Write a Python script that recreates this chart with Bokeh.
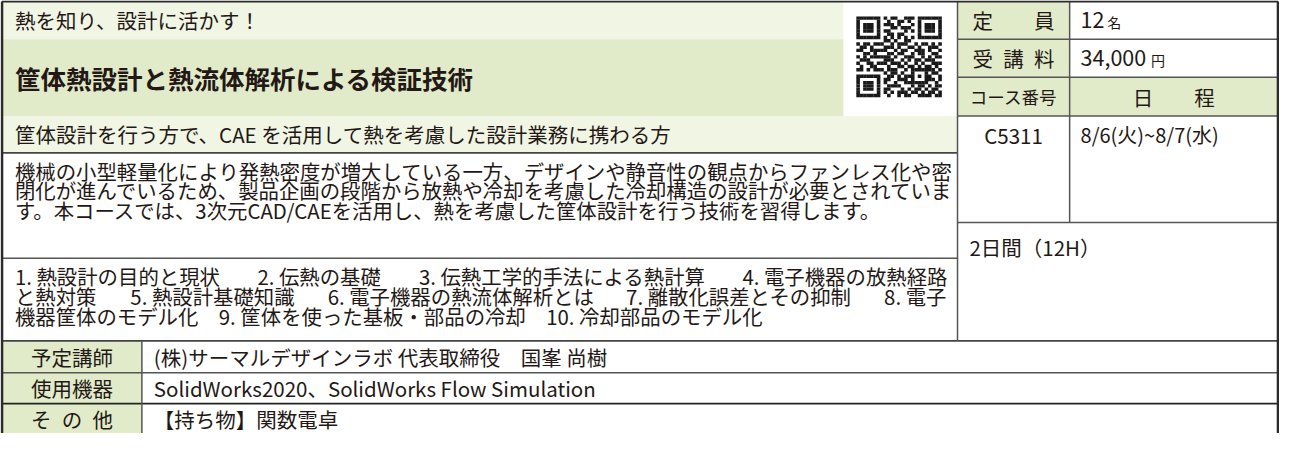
from bokeh.plotting import figure
from bokeh.models import Range1d
from bokeh.core.properties import value
from bokeh.embed import file_html
from bokeh.resources import INLINE

# ---------------- content ----------------
tagline = "熱を知り、設計に活かす！"
course_title = "筐体熱設計と熱流体解析による検証技術"
audience = "筐体設計を行う方で、CAE を活用して熱を考慮した設計業務に携わる方"
description_lines = [
    "機械の小型軽量化により発熱密度が増大している一方、デザインや静音性の観点からファンレス化や密",
    "閉化が進んでいるため、製品企画の段階から放熱や冷却を考慮した冷却構造の設計が必要とされていま",
    "す。本コースでは、3次元CAD/CAEを活用し、熱を考慮した筐体設計を行う技術を習得します。",
]
contents_justified = [
    ["1. 熱設計の目的と現状", "2. 伝熱の基礎", "3. 伝熱工学的手法による熱計算", "4. 電子機器の放熱経路"],
    ["と熱対策", "5. 熱設計基礎知識", "6. 電子機器の熱流体解析とは", "7. 離散化誤差とその抑制", "8. 電子"],
]
contents_last = "機器筐体のモデル化　9. 筐体を使った基板・部品の冷却　10. 冷却部品のモデル化"

info_labels = ["定　　員", "受\u2002講\u2002料", "コース番号"]
capacity = "12"
capacity_unit = "名"
fee = "34,000"
fee_unit = "円"
schedule_label = "日　　程"
course_code = "C5311"
schedule = "8/6(火)~8/7(水)"
duration = "2日間（12H）"

detail_labels = ["予定講師", "使用機器", "そ\u2002の\u2002他"]
detail_values = [
    "(株)サーマルデザインラボ 代表取締役　国峯 尚樹",
    "SolidWorks2020、SolidWorks Flow Simulation",
    "【持ち物】関数電卓",
]

qr_rows = [
    "1111111" + "0" + "101100111" + "0" + "1111111",
    "1000001" + "0" + "010011010" + "0" + "1000001",
    "1011101" + "0" + "111010001" + "0" + "1011101",
    "1011101" + "0" + "001101110" + "0" + "1011101",
    "1011101" + "0" + "110000101" + "0" + "1011101",
    "1000001" + "0" + "011011000" + "0" + "1000001",
    "1111111" + "0" + "101010101" + "0" + "1111111",
    "0000000" + "0" + "110100110" + "0" + "0000000",
    "1011011100101110010110101",
    "0110100011101001101001110",
    "1100111110010110011101001",
    "0011010001101100101100110",
    "1010111111010011100101011",
    "0111000011100101011011100",
    "1001101110111010010100111",
    "0100110001001101101011010",
    "1101011101110010111111101",
    "00000000" + "10110100" + "10001" + "0110",
    "1111111" + "0" + "01101011" + "10101" + "1001",
    "1000001" + "0" + "11001110" + "10001" + "1101",
    "1011101" + "0" + "10010011" + "11111" + "0010",
    "1011101" + "0" + "01111000" + "10110" + "1011",
    "1011101" + "0" + "11000101" + "01101" + "0110",
    "1000001" + "0" + "10101110" + "11010" + "1101",
    "1111111" + "0" + "01001011" + "00111" + "1011",
]

# ---------------- style ----------------
FONT = value("Noto Sans CJK JP")
INK = "#231815"
LIGHT = "#f0f5e4"
GREEN = "#e1ebc9"
LINE = "#555555"
EDGE = "#2b2b2b"

# layout (pixel grid of the sheet)
XL, XR = 5, 1291
XQ, XT, XT2, XLAB = 853, 968, 1081, 146
YT = 7
Y_R1, Y_R2, Y_R3 = 45, 83, 122
Y_L3, Y_R4, Y_L4 = 159, 229, 265
Y_D1, Y_D2, Y_D3, YB = 348, 380, 411, 449

p = figure(width=1279, height=433, x_range=Range1d(3.5, 1292.5), y_range=Range1d(441, 6),
           output_backend="svg", toolbar_location=None, min_border=0,
           x_axis_location=None, y_axis_location=None)
p.grid.visible = False
p.outline_line_color = None
p.background_fill_color = "white"
p.border_fill_color = "white"

# backgrounds
bg = dict(l=[], r=[], t=[], b=[], c=[])
def cell(l, r, t, b, c):
    bg["l"].append(l); bg["r"].append(r); bg["t"].append(t); bg["b"].append(b); bg["c"].append(c)
cell(XL, XQ, YT, Y_R1, LIGHT)
cell(XL, XQ, Y_R1, Y_R3, GREEN)
cell(XL, XT, Y_R3, Y_L3, LIGHT)
cell(XT, XT2, YT, Y_R1, GREEN)
cell(XT, XT2, Y_R1, Y_R2, GREEN)
cell(XT, XT2, Y_R2, Y_R3, GREEN)
cell(XT2, XR, Y_R2, Y_R3, GREEN)
cell(XL, XLAB, Y_D1, Y_D2, GREEN)
cell(XL, XLAB, Y_D2, Y_D3, GREEN)
cell(XL, XLAB, Y_D3, YB, GREEN)
p.quad(left=bg["l"], right=bg["r"], top=bg["t"], bottom=bg["b"], fill_color=bg["c"], line_color=None)

# QR code modules
n = len(qr_rows)
qx0, qx1, qy0, qy1 = 866, 952, 22, 103
mw, mh = (qx1 - qx0) / n, (qy1 - qy0) / n
ql, qr, qt, qb = [], [], [], []
for i, row in enumerate(qr_rows):
    for j, ch in enumerate(row):
        if ch == "1":
            ql.append(qx0 + j * mw); qr.append(qx0 + (j + 1) * mw + 0.2)
            qt.append(qy0 + i * mh); qb.append(qy0 + (i + 1) * mh + 0.2)
p.quad(left=ql, right=qr, top=qt, bottom=qb, fill_color="#1a1a1a", line_color=None)

# rules
seg = dict(x0=[], y0=[], x1=[], y1=[], c=[], w=[])
def rule(x0, y0, x1, y1, c=LINE, w=1.5):
    seg["x0"].append(x0); seg["y0"].append(y0); seg["x1"].append(x1); seg["y1"].append(y1)
    seg["c"].append(c); seg["w"].append(w)
rule(XT, Y_R1, XR, Y_R1)
rule(XT, Y_R2, XR, Y_R2)
rule(XT, Y_R3, XR, Y_R3)
rule(XL, Y_L3, XT, Y_L3, "#444444", 1.8)
rule(XT, Y_R4, XR, Y_R4)
rule(XL, Y_L4, XT, Y_L4)
rule(XL, Y_D1, XR, Y_D1, "#444444", 1.8)
rule(XL, Y_D2, XR, Y_D2)
rule(XL, Y_D3, XR, Y_D3, "#222222", 1.8)
rule(XT, YT, XT, Y_D1)
rule(XT2, YT, XT2, Y_R4)
rule(XLAB, Y_D1, XLAB, YB)
rule(XL, YT, XR, YT, EDGE, 2.2)
rule(XL, YT, XL, YB, EDGE, 2.6)
rule(XR, YT, XR, YB, EDGE, 2.6)
p.segment(x0=seg["x0"], y0=seg["y0"], x1=seg["x1"], y1=seg["y1"], line_color=seg["c"], line_width=seg["w"])

# text helpers
def txt(xs, ys, ts, size, align="left", style="normal"):
    p.text(x=xs, y=ys, text=ts, text_font=FONT, text_font_size=value(size), text_color=INK,
           text_align=align, text_baseline="middle", text_font_style=style)

def em(s):
    w = 0.0
    for c in s:
        if c == " ":
            w += 0.22
        elif c in ".,":
            w += 0.27
        elif c.isdigit():
            w += 0.55
        elif c.isascii():
            w += 0.6
        else:
            w += 1.0
    return w

BODY = 20.4
TX = 18
TR = 956

txt([TX], [26], [tagline], "20.5px")
txt([TX], [83], [course_title], "25.5px", style="bold")
txt([TX], [140.5], [audience], "20.5px")

desc_y = [177, 196.5, 216]
txt([TX] * len(description_lines), desc_y, description_lines, f"{BODY}px")

cont_y = [283, 303, 322.5]
cx, cy, ct = [], [], []
for k, items in enumerate(contents_justified):
    widths = [em(s) * BODY for s in items]
    gap = (TR - TX - sum(widths)) / (len(items) - 1)
    x = TX
    for s, w in zip(items, widths):
        cx.append(x); cy.append(cont_y[k]); ct.append(s)
        x += w + gap
cx.append(TX); cy.append(cont_y[2]); ct.append(contents_last)
txt(cx, cy, ct, f"{BODY}px")

# right info table
lab_cx = (XT + XT2) / 2
txt([lab_cx, lab_cx], [26, 64], info_labels[:2], "20.5px", align="center")
txt([lab_cx], [102.5], [info_labels[2]], "17.5px", align="center")
txt([(XT2 + XR) / 2], [102.5], [schedule_label], "20.5px", align="center")
txt([1092, 1092], [26, 64], [capacity, fee], "21.5px")
txt([1119, 1163], [28, 66], [capacity_unit, fee_unit], "14px")
txt([lab_cx], [141], [course_code], "20.5px", align="center")
txt([1092], [141], [schedule], "20px")
txt([980], [254], [duration], "20.5px")

# detail rows
det_y = [(Y_D1 + Y_D2) / 2, (Y_D2 + Y_D3) / 2, Y_D3 + 15.5]
txt([(XL + XLAB) / 2] * 3, det_y, detail_labels, "20.5px", align="center")
txt([158] * 3, det_y, detail_values, "20.5px")

open("out.html", "w").write(file_html(p, INLINE))
